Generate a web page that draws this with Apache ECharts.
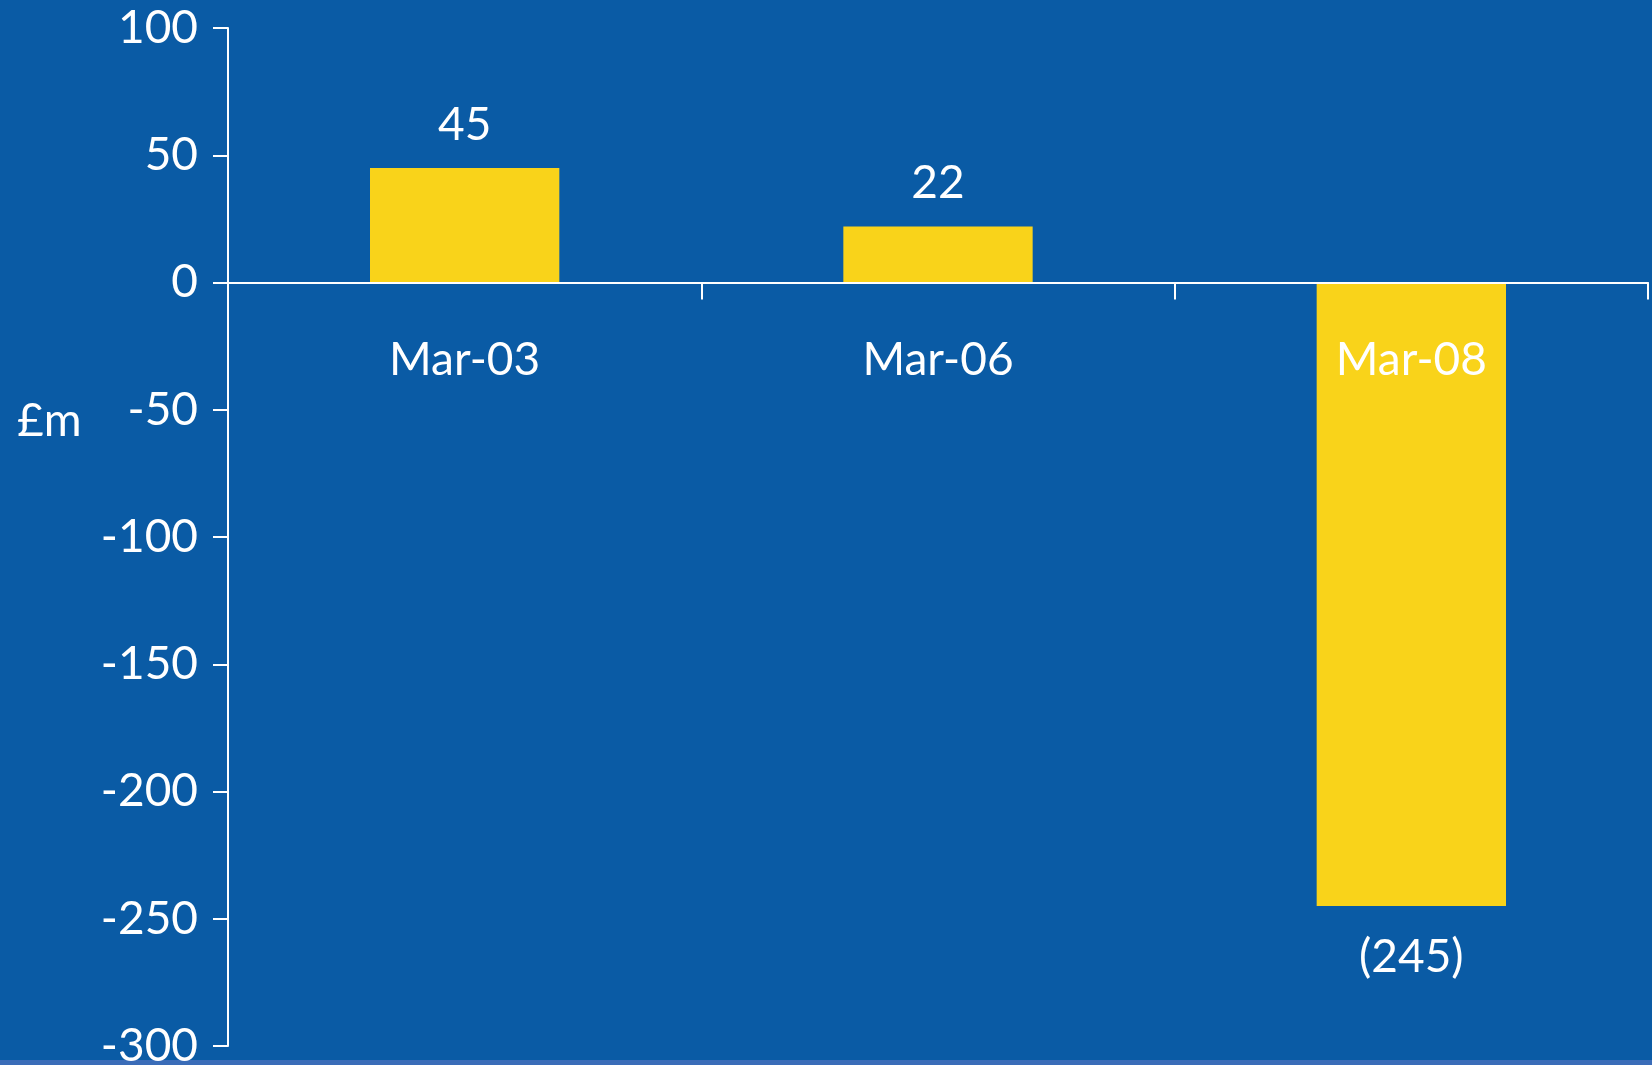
<!DOCTYPE html>
<html>
<head>
<meta charset="utf-8">
<style>
  html, body { margin: 0; padding: 0; background: #0a5ba5; }
  #chart { width: 1652px; height: 1065px; }
</style>
<script src="https://cdn.jsdelivr.net/npm/echarts@6/dist/echarts.min.js"></script>
</head>
<body>
<div id="chart"></div>
<script>
// Balance at each year end, in £m
const categories = ['Mar-03', 'Mar-06', 'Mar-08'];
const values = [45, 22, -245];
const yTicks = [100, 50, 0, -50, -100, -150, -200, -250, -300];

const FONT = 'Lato';
const WHITE = '#ffffff';
const YELLOW = '#f9d31a';

// Layout of the plot area
const GRID_TOP = 28;
const GRID_BOTTOM = 19;
const CHART_H = 1065;
// Category axis sits on the zero line: shift it up from the grid bottom
const plotH = CHART_H - GRID_TOP - GRID_BOTTOM;
const yMin = yTicks[yTicks.length - 1];
const yMax = yTicks[0];
const zeroOffset = -plotH * (0 - yMin) / (yMax - yMin);

// Negative amounts are shown in brackets, accounting style
function fmt(v) {
  return v < 0 ? '(' + Math.abs(v) + ')' : String(v);
}

const chart = echarts.init(document.getElementById('chart'), null, { renderer: 'canvas' });

chart.setOption({
  backgroundColor: '#0a5ba5',
  animation: false,
  title: {
    text: '£m',
    left: 12,
    top: 393,
    textStyle: { color: WHITE, fontFamily: FONT, fontSize: 46, fontWeight: 'normal' }
  },
  graphic: [{
    type: 'rect',
    left: 0,
    bottom: 0,
    shape: { width: 1652, height: 5 },
    style: { fill: '#3a6cb8' }
  }],
  grid: {
    left: 228, right: 4, top: GRID_TOP, bottom: GRID_BOTTOM,
    containLabel: false, outerBoundsMode: 'none'
  },
  xAxis: {
    type: 'category',
    data: categories,
    position: 'bottom',
    offset: zeroOffset,
    z: 10,
    axisLine: { show: true, onZero: false, lineStyle: { color: WHITE, width: 2 } },
    axisTick: { show: true, length: 17, lineStyle: { color: WHITE, width: 2 } },
    axisLabel: {
      color: WHITE, fontFamily: FONT, fontSize: 46, margin: 55
    },
    splitLine: { show: false }
  },
  yAxis: {
    type: 'value',
    min: yMin,
    max: yMax,
    interval: 50,
    axisLine: { show: true, lineStyle: { color: WHITE, width: 2 } },
    axisTick: { show: true, length: 15, lineStyle: { color: WHITE, width: 2 } },
    axisLabel: {
      color: WHITE, fontFamily: FONT, fontSize: 46, margin: 30,
      formatter: v => (yTicks.indexOf(v) >= 0 ? String(v) : '')
    },
    splitLine: { show: false }
  },
  series: [{
    type: 'bar',
    barWidth: '40%',
    itemStyle: { color: YELLOW },
    data: values.map(v => ({
      value: v,
      label: {
        show: true,
        position: v < 0 ? 'bottom' : 'top',
        distance: v < 0 ? 28 : 20,
        color: WHITE,
        fontFamily: FONT,
        fontSize: 46,
        formatter: p => fmt(p.value)
      }
    }))
  }]
});
</script>
</body>
</html>
